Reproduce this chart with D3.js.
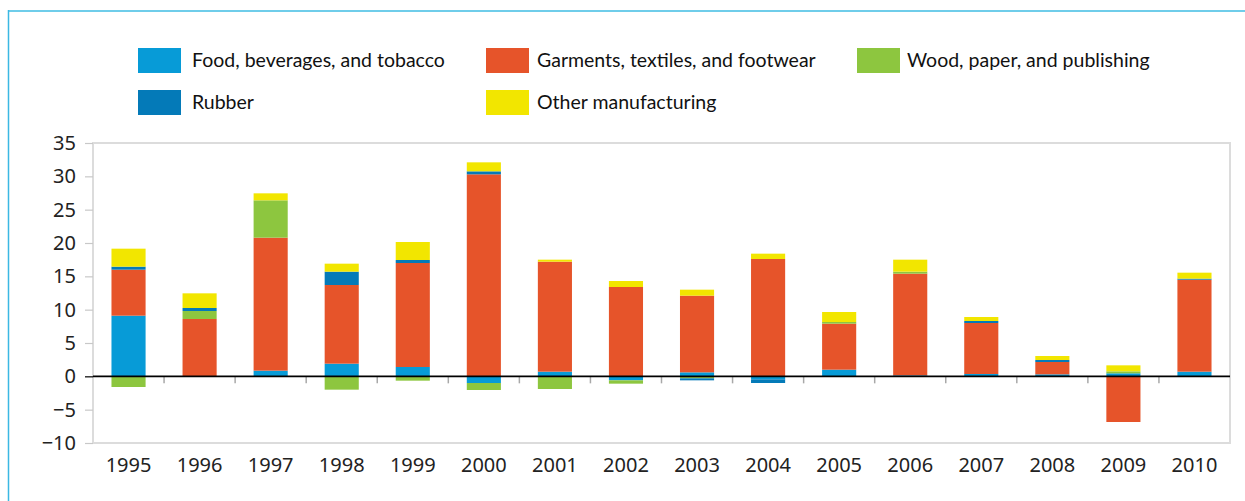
<!DOCTYPE html>
<html>
<head>
<meta charset="utf-8">
<script src="https://cdn.jsdelivr.net/npm/d3@7"></script>
<style>
  html, body { margin: 0; padding: 0; background: #fff; }
  svg { display: block; }
</style>
</head>
<body>
<svg id="chart" width="1245" height="501"></svg>
<script>
const years = ["1995","1996","1997","1998","1999","2000","2001","2002","2003","2004","2005","2006","2007","2008","2009","2010"];
const seriesNames = ["Food, beverages, and tobacco","Garments, textiles, and footwear","Wood, paper, and publishing","Rubber","Other manufacturing"];
const food     = [9.1, 0, 0.85, 1.9, 1.4, -1.0, 0.7, -0.6, 0.6, -0.45, 1.0, 0.15, 0.35, 0.3, 0.45, 0.7];
const garments = [6.9, 8.6, 19.95, 11.8, 15.6, 30.3, 16.5, 13.4, 11.5, 17.6, 6.9, 15.25, 7.65, 1.85, -6.85, 13.8];
const wood     = [-1.6, 1.2, 5.6, -2.0, -0.65, -1.05, -1.9, -0.5, -0.3, 0, 0.25, 0.3, 0, 0, 0.3, 0];
const rubber   = [0.45, 0.45, 0, 2.0, 0.45, 0.45, 0, 0, -0.3, -0.55, 0, 0, 0.3, 0.3, 0, 0.15];
const other    = [2.7, 2.2, 1.05, 1.2, 2.7, 1.35, 0.3, 0.9, 0.9, 0.8, 1.5, 1.8, 0.6, 0.6, 0.9, 0.9];
const yTicks = [-10, -5, 0, 5, 10, 15, 20, 25, 30, 35];
const colors = ["#079bd7", "#e6542a", "#8dc63f", "#047ab8", "#f2e600"];

const svg = d3.select("#chart");
const margin = {left: 93, right: 15, top: 143, bottom: 58};
const W = 1245, H = 501;
const x0 = margin.left, x1 = W - margin.right, yTop = margin.top, yBot = H - margin.bottom;

// outer decorative frame
svg.append("line").attr("x1", 8).attr("x2", W).attr("y1", 11).attr("y2", 11)
  .attr("stroke", "#6fcdea").attr("stroke-width", 2);
svg.append("line").attr("x1", 8.5).attr("x2", 8.5).attr("y1", 10).attr("y2", H)
  .attr("stroke", "#3bb8e3").attr("stroke-width", 1.5);

const rows = years.map((y, i) => ({year: y, s0: food[i], s1: garments[i], s2: wood[i], s3: rubber[i], s4: other[i]}));
const keys = ["s0","s1","s2","s3","s4"];
const stacked = d3.stack().keys(keys).offset(d3.stackOffsetDiverging)(rows);

const x = d3.scaleBand().domain(years).range([x0, x1]).paddingInner(0.52).paddingOuter(0.26);
const y = d3.scaleLinear().domain([-10, 35]).range([yBot, yTop]);

// plot border
svg.append("rect").attr("x", x0).attr("y", yTop).attr("width", x1 - x0).attr("height", yBot - yTop)
  .attr("fill", "none").attr("stroke", "#dcdcdc").attr("stroke-width", 2);

// y axis
const yAxis = svg.append("g").attr("transform", `translate(${x0},0)`)
  .call(d3.axisLeft(y).tickValues(yTicks).tickSize(8).tickPadding(9).tickFormat(d => d < 0 ? "\u2212" + Math.abs(d) : d));
yAxis.select(".domain").remove();
yAxis.selectAll(".tick line").attr("stroke", d => d === 0 ? "#000" : "#c8c8c8").attr("stroke-width", 1.2);
yAxis.selectAll(".tick text").attr("font-family", "'Noto Sans', 'Open Sans', sans-serif")
  .attr("font-size", 20).attr("fill", "#222");

// bars
svg.append("g").selectAll("g").data(stacked).join("g")
  .attr("fill", (d, i) => colors[i])
  .selectAll("rect").data(d => d).join("rect")
  .attr("x", d => x(d.data.year))
  .attr("width", x.bandwidth())
  .attr("y", d => y(Math.max(d[0], d[1])))
  .attr("height", d => Math.abs(y(d[0]) - y(d[1])));

// x ticks at category boundaries, hanging below zero line
const step = x.step();
const bounds = d3.range(1, years.length).map(k => x0 + k * step);
svg.append("g").selectAll("line").data(bounds).join("line")
  .attr("x1", d => d).attr("x2", d => d)
  .attr("y1", y(0)).attr("y2", y(0) + 7)
  .attr("stroke", "#a8a8a8").attr("stroke-width", 1.5);

// zero line
svg.append("line").attr("x1", x0).attr("x2", x1).attr("y1", y(0)).attr("y2", y(0))
  .attr("stroke", "#000").attr("stroke-width", 1.8);

// x labels
svg.append("g").selectAll("text").data(years).join("text")
  .attr("x", d => x(d) + x.bandwidth() / 2)
  .attr("y", yBot + 29)
  .attr("text-anchor", "middle")
  .attr("font-family", "'Noto Sans', 'Open Sans', sans-serif")
  .attr("font-size", 20).attr("fill", "#222")
  .text(d => d);

// legend
const legendPos = [[138, 48], [486, 48], [857, 48], [138, 90], [486, 90]];
const textOff = [54, 51, 50, 54, 51];
const lg = svg.append("g").selectAll("g").data(seriesNames).join("g")
  .attr("transform", (d, i) => `translate(${legendPos[i][0]},${legendPos[i][1]})`);
lg.append("rect").attr("width", 43).attr("height", 25).attr("fill", (d, i) => colors[i]);
lg.append("text").attr("x", (d, i) => textOff[i]).attr("y", 19)
  .attr("font-family", "Lato, sans-serif").attr("font-size", 19.5).attr("fill", "#111")
  .text(d => d);
</script>
</body>
</html>
